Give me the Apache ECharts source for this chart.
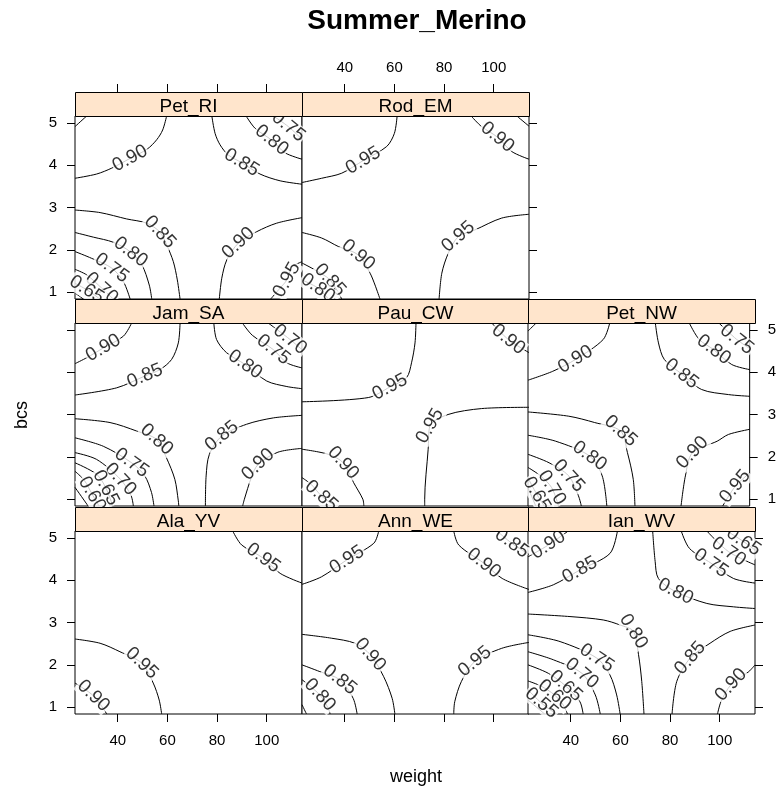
<!DOCTYPE html>
<html>
<head>
<meta charset="utf-8">
<script src="https://cdn.jsdelivr.net/npm/echarts@6/dist/echarts.min.js"></script>
<style>
  html, body { margin: 0; padding: 0; background: #fff; }
  #chart { width: 779px; height: 789px; }
</style>
</head>
<body>
<div id="chart"></div>
<script>
// Panel (strip) names, in drawing order: top row, middle row, bottom row
const panelNames = ['Pet_RI', 'Rod_EM', 'Jam_SA', 'Pau_CW', 'Pet_NW', 'Ala_YV', 'Ann_WE', 'Ian_WV'];
const weightTicks = [40, 60, 80, 100];
const bcsTicks = [1, 2, 3, 4, 5];
const weightRange = [22.8, 114.2];
const bcsRange = [0.84, 5.16];

// Contour lines for each panel: [level, index of the labelled point (-1 = none), [[weight, bcs], ...]]
const petRI = [
  [0.90, 4, [[59.7,5.16],[58.1,4.83],[55.7,4.60],[51.9,4.38],[45.0,4.16],[37.6,3.93],[31.5,3.79],[22.8,3.69]]],
  [0.95, -1, [[22.8,4.91],[27.5,5.16]]],
  [0.85, 4, [[77.9,5.16],[79.2,4.75],[81.2,4.48],[84.5,4.24],[89.9,4.06],[97.3,3.79],[105.4,3.63],[114.2,3.55]]],
  [0.80, 2, [[91.7,5.16],[95.3,4.87],[102.0,4.59],[107.4,4.29],[114.2,4.14]]],
  [0.75, 1, [[102.7,5.16],[108.7,4.91],[114.2,4.61]]],
  [0.85, 4, [[22.8,2.94],[32.9,2.88],[43.6,2.73],[51.7,2.63],[57.0,2.42],[59.7,2.12],[62.4,1.72],[64.0,1.29],[65.1,0.84]]],
  [0.80, 3, [[22.8,2.41],[30.2,2.30],[38.2,2.18],[45.2,1.95],[49.7,1.65],[52.7,1.17],[53.7,0.84]]],
  [0.75, 2, [[22.8,1.96],[29.5,1.80],[37.6,1.57],[42.3,1.25],[45.0,0.84]]],
  [0.70, 2, [[22.8,1.54],[27.5,1.41],[33.5,1.10],[38.2,0.84]]],
  [0.65, 1, [[22.8,1.21],[27.5,1.06],[32.9,0.84]]],
  [0.60, -1, [[22.8,0.98],[26.2,0.84]]],
  [0.90, 3, [[114.2,2.76],[104.0,2.63],[96.0,2.43],[88.6,2.16],[83.9,1.76],[81.9,1.33],[80.9,0.84]]],
  [0.95, 2, [[114.2,1.72],[110.1,1.59],[108.1,1.29],[105.4,1.10],[101.6,0.84]]]
];
const rodEM = [
  [0.95, 3, [[61.1,5.16],[60.0,4.75],[56.9,4.44],[47.5,4.11],[38.8,3.81],[30.7,3.69],[22.8,3.59]]],
  [0.90, 2, [[90.9,5.16],[95.1,4.91],[101.5,4.66],[107.3,4.32],[114.2,4.14]]],
  [0.85, -1, [[109.3,5.16],[114.2,4.92]]],
  [0.90, 3, [[22.8,2.41],[30.7,2.28],[37.4,2.08],[45.5,1.88],[50.2,1.45],[52.2,1.17],[54.2,0.84]]],
  [0.85, 2, [[22.8,1.69],[27.9,1.53],[34.1,1.29],[38.8,0.84]]],
  [0.80, 1, [[22.8,1.29],[29.2,1.10],[33.4,0.84]]],
  [0.95, 3, [[114.2,2.84],[103.2,2.75],[92.4,2.47],[85.7,2.31],[81.7,1.92],[79.1,1.45],[78.0,0.84]]]
];
const jamSA = [
  [0.90, 2, [[45.6,5.16],[42.3,4.85],[34.2,4.57],[27.5,4.34],[22.8,4.20]]],
  [0.85, 4, [[65.1,5.16],[64.4,4.69],[61.7,4.30],[57.0,4.06],[51.0,3.91],[39.6,3.63],[22.8,3.46]]],
  [0.80, 3, [[78.7,5.16],[79.8,4.77],[83.8,4.46],[91.3,4.18],[100.0,3.79],[108.1,3.66],[114.2,3.61]]],
  [0.75, 2, [[90.2,5.16],[94.2,4.87],[102.7,4.53],[108.1,4.22],[114.2,4.10]]],
  [0.70, 1, [[100.6,5.16],[109.4,4.77],[114.2,4.53]]],
  [0.80, 3, [[22.8,2.90],[36.9,2.81],[47.6,2.61],[55.7,2.41],[59.6,1.98],[63.0,1.47],[64.4,0.96],[64.6,0.84]]],
  [0.85, 3, [[114.2,2.98],[102.7,2.92],[91.9,2.77],[81.9,2.49],[76.9,2.06],[75.6,1.55],[75.3,0.84]]],
  [0.90, 2, [[114.2,2.20],[104.5,2.11],[96.5,1.82],[93.8,1.51],[91.0,1.00],[90.3,0.84]]],
  [0.75, 2, [[22.8,2.45],[34.2,2.25],[45.6,1.86],[50.9,1.55],[53.6,1.16],[54.6,0.84]]],
  [0.70, 2, [[22.8,2.10],[31.5,1.94],[41.1,1.47],[45.4,1.08],[46.3,0.84]]],
  [0.65, 2, [[22.8,1.86],[31.5,1.59],[35.2,1.27],[38.0,0.84]]],
  [0.60, 2, [[22.8,1.66],[26.5,1.45],[29.7,1.12],[32.5,0.84]]],
  [0.55, -1, [[22.8,1.28],[28.1,0.84]]]
];
const pauCW = [
  [0.95, 4, [[68.7,5.16],[68.3,4.69],[66.9,4.22],[64.9,3.87],[58.2,3.65],[49.5,3.40],[22.8,3.30]]],
  [0.90, 1, [[99.2,5.16],[105.9,4.77],[114.2,4.46]]],
  [0.95, 3, [[114.2,3.17],[95.1,3.14],[81.6,3.00],[74.3,2.73],[73.6,2.18],[72.2,1.00],[72.2,0.84]]],
  [0.90, 2, [[22.8,2.18],[33.4,2.06],[39.4,1.86],[43.6,1.39],[47.3,1.00],[47.7,0.84]]],
  [0.85, 2, [[22.8,1.51],[26.5,1.35],[30.6,1.08],[36.2,0.84]]]
];
const petNW = [
  [0.95, -1, [[22.8,4.97],[26.2,5.16]]],
  [0.90, 2, [[56.5,5.16],[53.8,4.77],[42.4,4.30],[33.0,4.02],[22.8,3.81]]],
  [0.85, 3, [[75.3,5.16],[76.6,4.69],[79.0,4.30],[86.1,3.96],[94.4,3.59],[105.5,3.47],[114.2,3.43]]],
  [0.80, 2, [[89.3,5.16],[93.4,4.77],[99.4,4.53],[106.8,4.18],[114.2,4.06]]],
  [0.75, 1, [[101.5,5.16],[108.9,4.77],[114.2,4.56]]],
  [0.85, 3, [[22.8,3.06],[39.6,2.96],[50.3,2.81],[61.0,2.61],[63.8,2.10],[66.2,1.47],[66.9,0.84]]],
  [0.80, 2, [[22.8,2.51],[34.2,2.37],[48.2,2.02],[53.4,1.55],[55.3,0.84]]],
  [0.75, 2, [[22.8,2.06],[31.5,1.86],[39.6,1.55],[43.6,1.08],[44.8,0.84]]],
  [0.70, 2, [[22.8,1.75],[28.0,1.55],[32.6,1.27],[35.4,0.84]]],
  [0.65, 1, [[22.8,1.50],[26.4,1.12],[29.5,0.84]]],
  [0.60, -1, [[22.8,1.27],[26.0,0.84]]],
  [0.90, 3, [[114.2,2.65],[105.5,2.53],[100.8,2.37],[90.6,2.10],[87.7,1.55],[85.9,0.84]]],
  [0.95, 1, [[114.2,1.62],[108.2,1.30],[103.1,0.84]]]
];
const alaYV = [
  [0.95, 2, [[86.3,5.16],[89.9,4.83],[98.6,4.52],[105.4,4.16],[114.2,3.93]]],
  [0.95, 3, [[22.8,2.61],[32.9,2.51],[40.9,2.31],[49.7,2.04],[54.3,1.57],[56.7,1.17],[57.7,0.84]]],
  [0.90, 1, [[22.8,1.57],[30.2,1.27],[35.6,0.84]]]
];
const annWE = [
  [0.95, 2, [[53.7,5.16],[51.7,4.87],[40.9,4.48],[30.7,4.08],[22.8,3.90]]],
  [0.90, 2, [[83.9,5.16],[85.9,4.83],[96.0,4.40],[103.4,4.04],[114.2,3.78]]],
  [0.85, 1, [[101.3,5.16],[107.3,4.87],[114.2,4.61]]],
  [0.90, 3, [[22.8,2.72],[34.6,2.63],[44.1,2.51],[50.3,2.24],[55.7,1.72],[59.1,1.21],[60.2,0.84]]],
  [0.85, 2, [[22.8,2.00],[30.0,1.84],[38.0,1.65],[43.4,1.21],[45.0,0.84]]],
  [0.80, 1, [[22.8,1.65],[30.0,1.29],[33.4,0.97],[34.1,0.84]]],
  [0.75, -1, [[22.8,1.06],[24.6,0.84]]],
  [0.95, 2, [[114.2,2.53],[103.2,2.39],[92.4,2.08],[87.0,1.61],[84.3,1.13],[83.9,0.84]]]
];
const ianWV = [
  [0.90, 1, [[39.0,5.16],[31.0,4.83],[22.8,4.55]]],
  [0.85, 2, [[58.8,5.16],[55.8,4.63],[43.7,4.24],[33.0,3.89],[22.8,3.71]]],
  [0.80, 3, [[73.0,5.16],[74.0,4.44],[75.3,4.04],[82.2,3.73],[94.8,3.45],[105.5,3.37],[114.2,3.33]]],
  [0.75, 2, [[84.5,5.16],[87.8,4.75],[96.5,4.40],[105.5,4.04],[114.2,3.93]]],
  [0.70, 1, [[94.8,5.16],[103.6,4.67],[114.2,4.36]]],
  [0.65, 1, [[102.9,5.16],[109.6,4.91],[114.2,4.71]]],
  [0.80, 4, [[22.8,3.20],[39.7,3.14],[53.1,3.06],[59.9,2.94],[65.3,2.79],[67.3,2.24],[68.6,1.61],[69.5,0.84]]],
  [0.75, 2, [[22.8,2.71],[35.7,2.55],[50.5,2.16],[55.8,1.76],[58.5,1.29],[59.9,0.84]]],
  [0.70, 2, [[22.8,2.31],[33.0,2.12],[44.5,1.80],[49.9,1.29],[51.9,0.84]]],
  [0.65, 2, [[22.8,2.00],[31.0,1.80],[38.0,1.50],[43.7,1.13],[45.0,0.84]]],
  [0.60, 2, [[22.8,1.62],[28.0,1.50],[33.5,1.29],[37.0,1.05],[38.7,0.84]]],
  [0.55, 1, [[22.8,1.41],[28.2,1.10],[34.1,0.84]]],
  [0.50, -1, [[22.8,1.17],[29.5,0.84]]],
  [0.85, 3, [[114.2,2.94],[104.2,2.79],[96.1,2.51],[88.1,2.16],[82.7,1.61],[80.8,0.84]]],
  [0.90, 2, [[114.2,2.00],[111.7,1.84],[104.5,1.53],[100.5,1.13],[99.1,0.84]]]
];
const contours = [petRI, rodEM, jamSA, pauCW, petNW, alaYV, annWE, ianWV];

// ---- layout ----
const FONT = "'Liberation Sans', Arial, sans-serif";
const colLeft = [75, 302, 528];
const rowTop = [116, 323, 531];
const panelW = 227, panelH = 183, stripH = 24;
const cells = [[0,0],[0,1],[1,0],[1,1],[1,2],[2,0],[2,1],[2,2]]; // [row, col]
const lastInRow = [1, 4, 7];

const pxPerW = panelW / (weightRange[1] - weightRange[0]);
const pxPerB = panelH / (bcsRange[1] - bcsRange[0]);

const grids = [], xAxes = [], yAxes = [], series = [], graphics = [];

cells.forEach(([r, c], i) => {
  const left = colLeft[c], top = rowTop[r];
  grids.push({ left, top, width: panelW, height: panelH, show: true,
    borderColor: '#000', borderWidth: 1, backgroundColor: '#fff', containLabel: false });

  const tickStyle = { lineStyle: { color: '#000', width: 1 } };
  const xa = { gridIndex: i, type: 'value', min: weightRange[0], max: weightRange[1],
    axisLine: { show: false }, splitLine: { show: false },
    axisTick: { show: false, customValues: weightTicks },
    axisLabel: { show: false, customValues: weightTicks, color: '#000', fontSize: 15, fontFamily: FONT } };
  if (r === 0) {
    xa.position = 'top'; xa.offset = stripH;
    xa.axisTick = Object.assign({ show: true, length: 8, customValues: weightTicks }, tickStyle);
    xa.axisLabel.show = (c === 1); xa.axisLabel.margin = 17;
  } else if (r === 2) {
    xa.position = 'bottom';
    xa.axisTick = Object.assign({ show: true, length: 8, customValues: weightTicks }, tickStyle);
    xa.axisLabel.show = (c !== 1); xa.axisLabel.margin = 19;
  }
  xAxes.push(xa);

  const ya = { gridIndex: i, type: 'value', min: bcsRange[0], max: bcsRange[1],
    axisLine: { show: false }, splitLine: { show: false },
    axisTick: { show: false, customValues: bcsTicks },
    axisLabel: { show: false, customValues: bcsTicks, color: '#000', fontSize: 15, fontFamily: FONT, margin: 18 } };
  if (c === 0) {
    ya.position = 'left';
    ya.axisTick = Object.assign({ show: true, length: 8, customValues: bcsTicks }, tickStyle);
    ya.axisLabel.show = (r !== 1);
  } else if (lastInRow.includes(i)) {
    ya.position = 'right';
    ya.axisTick = Object.assign({ show: true, length: 8, customValues: bcsTicks }, tickStyle);
    ya.axisLabel.show = (r === 1);
  }
  yAxes.push(ya);

  // contour lines
  const labelPts = [];
  contours[i].forEach(([level, k, pts]) => {
    series.push({ type: 'line', xAxisIndex: i, yAxisIndex: i, data: pts,
      showSymbol: false, smooth: 0.3, silent: true, animation: false, clip: true,
      lineStyle: { color: '#000', width: 1 }, z: 2 });
    if (k >= 0) {
      const a = pts[Math.max(0, k - 1)], b = pts[Math.min(pts.length - 1, k + 1)];
      let ang = Math.atan2((b[1] - a[1]) * pxPerB, (b[0] - a[0]) * pxPerW) * 180 / Math.PI;
      if (ang > 90) ang -= 180;
      if (ang <= -90) ang += 180;
      labelPts.push({ value: [pts[k][0], pts[k][1]], level: level.toFixed(2),
        label: { rotate: ang } });
    }
  });
  series.push({ type: 'scatter', xAxisIndex: i, yAxisIndex: i, data: labelPts,
    symbolSize: 1, itemStyle: { color: 'rgba(0,0,0,0)' }, silent: true, animation: false, z: 5,
    label: { show: true, position: 'inside', color: '#000', fontSize: 19, fontFamily: FONT,
      backgroundColor: '#fff', padding: [0, 1], lineHeight: 18,
      formatter: p => p.data.level } });

  // strip above the panel
  graphics.push({ type: 'rect', shape: { x: left + 0.5, y: top - stripH + 0.5, width: panelW, height: stripH },
    style: { fill: '#ffe5cc', stroke: '#000', lineWidth: 1 }, z: 10 });
  graphics.push({ type: 'text', x: left + panelW / 2, y: top - stripH / 2 + 2.5,
    style: { text: panelNames[i], fill: '#000', font: '19px ' + FONT, textAlign: 'center', textVerticalAlign: 'middle' }, z: 11 });
});

graphics.push({ type: 'text', x: 417, y: 21,
  style: { text: 'Summer_Merino', fill: '#000', font: 'bold 28px ' + FONT, textAlign: 'center', textVerticalAlign: 'middle' } });
graphics.push({ type: 'text', x: 416, y: 777,
  style: { text: 'weight', fill: '#000', font: '18px ' + FONT, textAlign: 'center', textVerticalAlign: 'middle' } });
graphics.push({ type: 'text', x: 22, y: 415, rotation: Math.PI / 2,
  style: { text: 'bcs', fill: '#000', font: '18px ' + FONT, textAlign: 'center', textVerticalAlign: 'middle' } });

const chart = echarts.init(document.getElementById('chart'), null, { renderer: 'canvas' });
chart.setOption({
  backgroundColor: '#fff',
  animation: false,
  grid: grids,
  xAxis: xAxes,
  yAxis: yAxes,
  series: series,
  graphic: graphics
});
</script>
</body>
</html>
